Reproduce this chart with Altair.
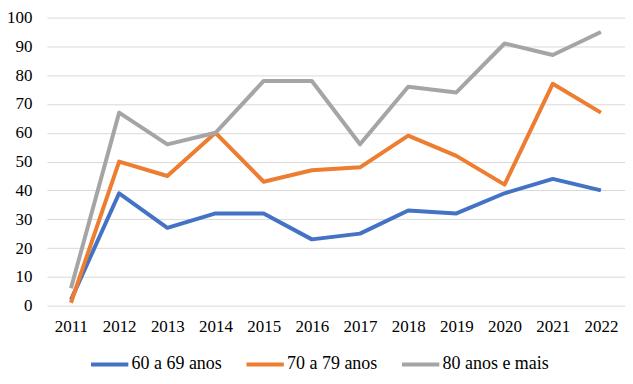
import altair as alt
import pandas as pd

years = [str(y) for y in range(2011, 2023)]
series_names = ["60 a 69 anos", "70 a 79 anos", "80 anos e mais"]
v60 = [2, 39, 27, 32, 32, 23, 25, 33, 32, 39, 44, 40]
v70 = [1, 50, 45, 60, 43, 47, 48, 59, 52, 42, 77, 67]
v80 = [6, 67, 56, 60, 78, 78, 56, 76, 74, 91, 87, 95]
colors = ["#4472C4", "#ED7D31", "#A5A5A5"]

rows = []
for name, vals in zip(series_names, [v60, v70, v80]):
    for yr, v in zip(years, vals):
        rows.append({"ano": yr, "valor": v, "grupo": name})
df = pd.DataFrame(rows)

FONT = "Liberation Serif"

chart = alt.Chart(df).mark_line(strokeWidth=4, strokeJoin="round").encode(
    x=alt.X("ano:O", sort=years, title=None,
            axis=alt.Axis(labelAngle=0, ticks=False, domain=False, grid=False,
                          labelPadding=13, labelFontSize=17,
                          labelColor="#000000")),
    y=alt.Y("valor:Q", title=None,
            scale=alt.Scale(domain=[0, 100], nice=False),
            axis=alt.Axis(values=list(range(0, 101, 10)), ticks=False, domain=False,
                          grid=True, gridColor="#D9D9D9", gridWidth=1,
                          labelPadding=15, labelFontSize=17,
                          labelColor="#000000")),
    color=alt.Color("grupo:N", sort=series_names, title=None,
                    scale=alt.Scale(domain=series_names, range=colors),
                    legend=alt.Legend(orient="none", direction="horizontal",
                                      legendX=42, legendY=327,
                                      symbolType="stroke", symbolSize=1400,
                                      symbolStrokeWidth=4, labelFontSize=18,
                                      labelColor="#000000",
                                      labelOffset=1, columnPadding=16)),
).properties(
    width=580, height=289,
    autosize=alt.AutoSizeParams(type="none"),
    padding={"left": 39, "top": 9, "right": 0, "bottom": 70},
).configure(font=FONT).configure_axis(labelFont=FONT).configure_legend(labelFont=FONT).configure_view(stroke=None)

chart.save("out.html", embed_options={"renderer": "svg", "actions": False})
